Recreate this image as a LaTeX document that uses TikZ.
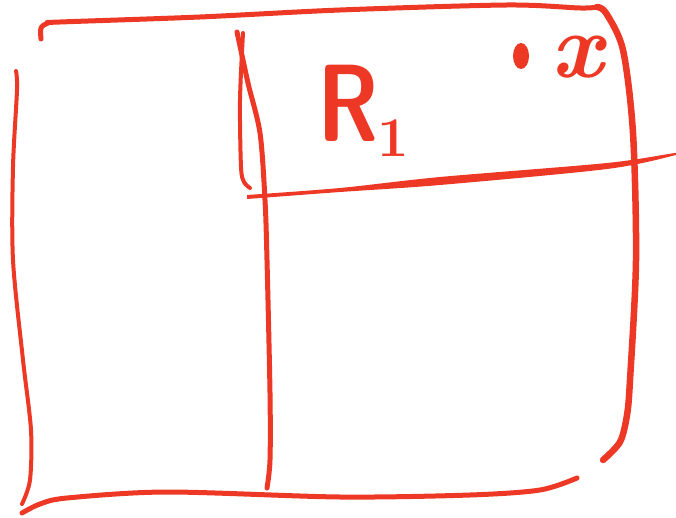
\documentclass[tikz,border=0pt]{standalone}
\usepackage{graphicx}
\definecolor{ink}{RGB}{238,56,38}
\begin{document}
\begin{tikzpicture}[x=1pt,y=-1pt,
  stroke/.style={draw=ink,line cap=round,line join=round},
  thin/.style={stroke,line width=4pt},
  mid/.style={stroke,line width=5pt},
  thick/.style={stroke,line width=6.5pt},
  lbl/.style={text=ink,inner sep=0}]
\useasboundingbox (0,0) rectangle (676,518);
% top edge + right edge
\draw[mid] plot[smooth,tension=0.5] coordinates {(41,39) (41,28) (48,23) (60,22) (200,17) (340,10) (507,5) (580,8) (597,7)};
\draw[thick] plot[smooth,tension=0.5] coordinates {(597,7) (606,13) (623,50) (633,133) (636,260) (630,380) (627,415) (620,442) (603,460)};
% left edge
\draw[thin] plot[smooth,tension=0.5] coordinates {(16,71) (17,90) (13,167) (13,260) (23,360) (31,430) (30,480) (22,504)};
% bottom edge
\draw[mid] plot[smooth,tension=0.5] coordinates {(22,513) (40,504) (67,498) (167,492) (340,497) (470,495) (540,490) (577,478)};
% middle vertical line
\draw[mid] plot[smooth,tension=0.5] coordinates {(237,32) (248,83) (260,133) (265,200) (267,260) (270,393) (270,460) (267,488)};
% hook
\draw[thin] plot[smooth,tension=0.5] coordinates {(243,33) (240,100) (241,167) (244,182) (250,188)};
% horizontal divider (tapered)
\fill[ink] plot[smooth,tension=0.5] coordinates {(247,195) (340,188) (440,177) (607,163) (675,153) (676,155) (607,169) (440,185) (340,192) (247,199)} -- cycle;
% labels
\node[lbl,font=\fontsize{110}{110}\selectfont\sffamily\bfseries] (r) at (348,103) {\scalebox{0.8}[1]{R}};
\node[lbl,font=\fontsize{56}{56}\selectfont\bfseries] (one) at (393,138) {1};
\fill[ink] (521,56) ellipse (8 and 13);
\node[lbl,font=\fontsize{92}{92}\selectfont\itshape\bfseries] (x) at (577,57) {x};
\end{tikzpicture}
\end{document}
